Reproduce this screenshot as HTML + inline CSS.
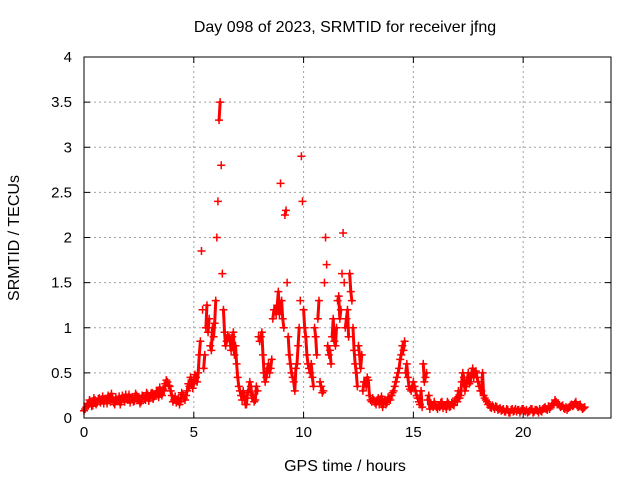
<!DOCTYPE html>
<html><head><meta charset="utf-8"><style>
body{margin:0;background:#fff;}
svg text{font-family:"Liberation Sans",sans-serif;font-size:15px;fill:#000;}
svg text.big{font-size:16px;}
</style></head><body>
<svg id="chart" width="640" height="480" xmlns="http://www.w3.org/2000/svg">
<text class="big" x="345" y="32" text-anchor="middle">Day 098 of 2023, SRMTID for receiver jfng</text>
<text class="big" transform="translate(19,238) rotate(-90)" text-anchor="middle">SRMTID / TECUs</text>
<text class="big" x="345" y="471" text-anchor="middle">GPS time / hours</text>
<g id="grid"></g>
<g id="axes"></g>
<g id="marks"></g>
<rect x="84" y="57" width="527" height="361" fill="none" stroke="#000" stroke-width="1"/>
</svg>
<script>
const xTicks=[0,5,10,15,20];
const yTicks=[0,0.5,1,1.5,2,2.5,3,3.5,4];
const yTickLabels=["0","0.5","1","1.5","2","2.5","3","3.5","4"];
const stepHours=0.1;
const srmtidA=[.08,.12,.15,.18,.14,.2,.17,.22,.19,.16,
.2,.25,.18,.22,.15,.2,.24,.18,.21,.26,
.2,.17,.23,.19,.25,.22,.18,.24,.2,.26,
.22,.28,.24,.3,.23,.27,.32,.38,.4,.35,
.25,.2,.17,.22,.18,.26,.2,.3,.35,.42,
.38,.45,.5,.85,1.2,.7,1.25,1.1,.75,.9,
1.3,2.4,3.5,1.6,.95,.85,.9,.75,.95,.8,
.45,.3,.2,.25,.15,.3,.35,.25,.2,.3,
.85,.95,.5,.45,.6,.55,1.1,1.2,1.25,1.15,
1.3,1.0,2.3,.9,.6,.45,.3,.6,1.0,2.9,
1.2,.9,.6,.5,.45,1.0,.7,1.3,.35,.3,
2.0,.8,.75,.9,.85,1.0,1.35,1.2,2.05,1.0,
1.2,1.6,1.3,.75,.5,.8,.55,.3,.4,.45,
.25,.18,.2,.15,.22,.18,.12,.2,.17,.22,
.25,.3,.4,.5,.65,.8,.85,.6,.35,.3,
.4,.3,.22,.15,.12,.4,.5,.25,.15,.12,
.15,.1,.12,.18,.14,.1,.16,.13,.15,.2,
.18,.22,.4,.45,.35,.5,.4,.55,.5,.45,
.35,.3,.25,.2,.15,.12,.14,.1,.12,.1,
.08,.1,.07,.09,.06,.1,.08,.07,.09,.08,
.1,.07,.06,.08,.1,.07,.09,.06,.08,.1,
.12,.09,.1,.14,.15,.18,.16,.12,.14,.1,
.09,.12,.15,.14,.18,.12,.15,.1,.12];
const srmtidB=[.1,.16,.2,.13,.22,.15,.21,.17,.24,.2,
.16,.22,.27,.17,.23,.19,.15,.25,.18,.22,
.26,.21,.18,.27,.2,.16,.25,.21,.28,.19,
.27,.21,.25,.29,.34,.25,.3,.42,.36,.3,
.18,.24,.2,.15,.28,.22,.25,.38,.45,.33,
.48,.4,.7,1.85,.55,1.0,.95,.8,1.0,1.05,
2.0,3.3,2.8,1.2,.8,.92,.85,.9,.7,.6,
.35,.25,.3,.15,.28,.4,.22,.18,.35,.9,
.9,.7,.4,.55,.5,.65,1.2,1.15,1.4,2.6,
1.1,2.25,1.5,.7,.5,.4,.55,.8,1.3,2.4,
1.0,.7,.55,.6,.35,.9,1.1,.4,.28,1.5,
1.7,.7,.6,1.1,.8,1.3,1.1,1.6,1.5,1.1,
.9,1.4,1.0,.6,.35,.7,.7,.4,.35,.42,
.2,.22,.17,.2,.15,.24,.18,.15,.23,.2,
.28,.35,.45,.55,.7,.75,.5,.45,.32,.35,
.35,.25,.18,.3,.6,.45,.2,.1,.14,.18,
.12,.14,.17,.11,.13,.18,.12,.17,.14,.22,
.3,.25,.5,.3,.42,.38,.5,.45,.52,.4,
.3,.5,.22,.18,.16,.11,.12,.13,.09,.11,
.09,.07,.1,.06,.09,.07,.1,.09,.06,.1,
.08,.09,.07,.1,.06,.09,.08,.1,.07,.11,
.1,.13,.12,.16,.2,.15,.14,.13,.11,.12,
.11,.14,.13,.16,.14,.13,.12,.11];
const X0=84,X1=611,Y0=418,Y1=57,XMAX=24,YMAX=4;
function xs(t){return X0+(X1-X0)*t/XMAX;}
function ys(v){return Y0-(Y0-Y1)*v/YMAX;}
const NS="http://www.w3.org/2000/svg";
function mk(tag,attrs,parent){const e=document.createElementNS(NS,tag);for(const k in attrs)e.setAttribute(k,attrs[k]);parent.appendChild(e);return e;}
const grid=document.getElementById('grid'),axes=document.getElementById('axes'),marks=document.getElementById('marks');
xTicks.forEach(t=>{const x=xs(t);
 if(t>0){const g=mk('line',{x1:x,x2:x,y1:Y0,y2:Y1,stroke:'#a0a0a0','stroke-dasharray':'2,3'},grid);
 
 }
 mk('line',{x1:x,x2:x,y1:Y0,y2:Y0-6,stroke:'#000'},axes);
 mk('line',{x1:x,x2:x,y1:Y1,y2:Y1+6,stroke:'#000'},axes);
 const l=mk('text',{x:x,y:Y0+19,'text-anchor':'middle'},axes);l.textContent=t;
 
 
});
yTicks.forEach((v,i)=>{const y=ys(v);
 if(v>0&&v<YMAX){const g=mk('line',{x1:X0,x2:X1,y1:y,y2:y,stroke:'#a0a0a0','stroke-dasharray':'2,3'},grid);
 
 }
 mk('line',{x1:X0,x2:X0+6,y1:y,y2:y,stroke:'#000'},axes);
 mk('line',{x1:X1,x2:X1-6,y1:y,y2:y,stroke:'#000'},axes);
 const l=mk('text',{x:X0-12,y:y+5,'text-anchor':'end'},axes);l.textContent=yTickLabels[i];
 
 
});
const merged=[];
for(let i=0;i<srmtidA.length;i++){merged.push([i*stepHours,srmtidA[i]]);if(i<srmtidB.length)merged.push([i*stepHours+stepHours/2,srmtidB[i]]);}
// connect only close neighbours to emulate dense point band; isolated spikes stay as single markers
let d='';
for(let i=1;i<merged.length;i++){const a=merged[i-1],b=merged[i];
 if(Math.abs(a[1]-b[1])<0.3)d+=`M${xs(a[0])},${ys(a[1])}L${xs(b[0])},${ys(b[1])}`;}
const trace=mk('path',{d:d,stroke:'#f00','stroke-width':3,fill:'none','stroke-linecap':'round'},marks);


function plus(t,v){const x=xs(t),y=ys(v);
 const p=mk('path',{d:`M${x-4},${y}H${x+4}M${x},${y-4}V${y+4}`,stroke:'#f00','stroke-width':1.5,fill:'none'},marks);
 
 }
merged.forEach(p=>plus(p[0],p[1]));
</script>
</body></html>
